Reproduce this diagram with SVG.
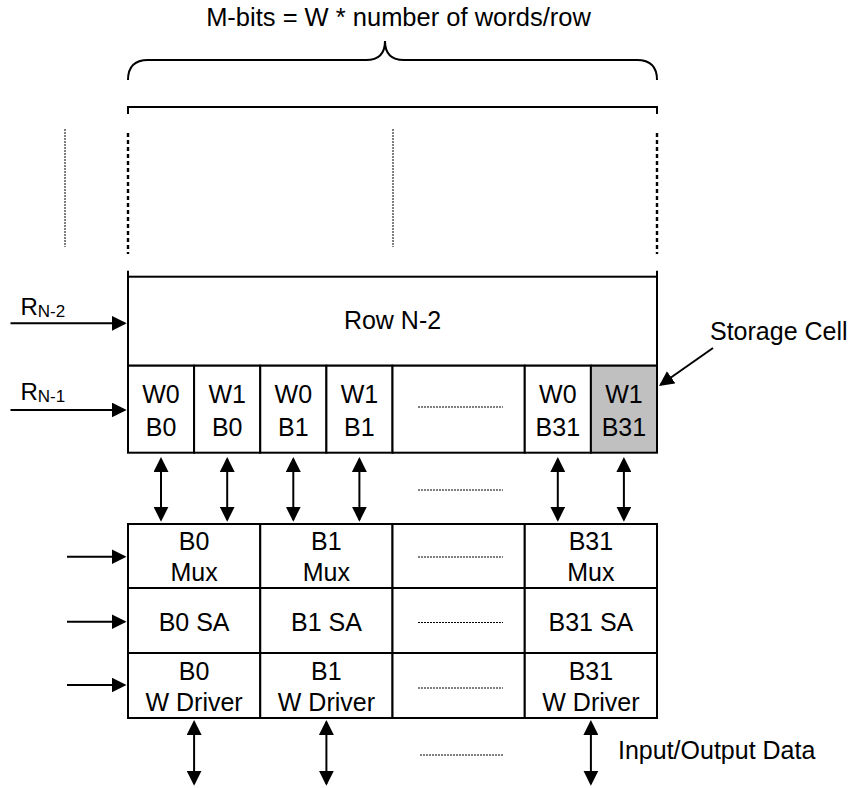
<svg xmlns="http://www.w3.org/2000/svg" width="852" height="788" viewBox="0 0 852 788">
<defs>
<marker id="ah" markerUnits="userSpaceOnUse" markerWidth="16" markerHeight="15" refX="13" refY="7.5" orient="auto-start-reverse">
<path d="M0,0 L15,7.5 L0,15 z" fill="#000"/>
</marker>
<style>
.t{font-family:"Liberation Sans",Arial,sans-serif;font-size:25px;fill:#000;text-anchor:middle}
.s{stroke:#000;stroke-width:2;fill:none}
.box{stroke:#000;stroke-width:2;fill:#fff}
.dot{stroke:#000;stroke-width:1;stroke-dasharray:2 1;fill:none}
.dash{stroke:#000;stroke-width:2.4;stroke-dasharray:4 3;fill:none}
.ar{stroke:#000;stroke-width:2;fill:none;marker-end:url(#ah)}
.dar{stroke:#000;stroke-width:2;fill:none;marker-start:url(#ah);marker-end:url(#ah)}
</style>
</defs>
<rect width="852" height="788" fill="#fff"/>

<g id="title">
<text class="t" x="398.5" y="26" style="font-size:25.5px">M-bits = W * number of words/row</text>
<path class="s" d="M128,80 Q128,60 148,60 L366,60 Q385,60 385,41 Q385,60 404,60 L637,60 Q657,60 657,80"/>
<path class="s" d="M128,114 L128,107 L657,107 L657,114"/>
</g>

<g id="guides">
<line class="dot" x1="65" y1="129" x2="65" y2="247"/>
<line class="dot" x1="393" y1="129" x2="393" y2="247"/>
<line class="dash" x1="128" y1="133" x2="128" y2="254"/>
<line class="dash" x1="657" y1="133" x2="657" y2="254"/>
</g>

<g id="row-n2">
<rect class="box" x="128" y="276.7" width="529" height="89"/>
<line class="s" x1="128" y1="270.7" x2="128" y2="277"/>
<line class="s" x1="657" y1="270.7" x2="657" y2="277"/>
<text class="t" x="392.5" y="329">Row N-2</text>
</g>

<g id="row-n1">
<rect class="box" x="128" y="365.7" width="66.1" height="87"/>
<rect class="box" x="194.1" y="365.7" width="66.15" height="87"/>
<rect class="box" x="260.25" y="365.7" width="66.15" height="87"/>
<rect class="box" x="326.4" y="365.7" width="66.1" height="87"/>
<rect class="box" x="392.5" y="365.7" width="132.25" height="87"/>
<rect class="box" x="524.75" y="365.7" width="66.15" height="87"/>
<rect class="box" x="590.9" y="365.7" width="66.1" height="87" style="fill:#c0c0c0"/>
<text class="t" x="161" y="403">W0</text><text class="t" x="161" y="436">B0</text>
<text class="t" x="227.2" y="403">W1</text><text class="t" x="227.2" y="436">B0</text>
<text class="t" x="293.3" y="403">W0</text><text class="t" x="293.3" y="436">B1</text>
<text class="t" x="359.4" y="403">W1</text><text class="t" x="359.4" y="436">B1</text>
<line class="dot" x1="418" y1="407" x2="503" y2="407"/>
<text class="t" x="557.8" y="403">W0</text><text class="t" x="557.8" y="436">B31</text>
<text class="t" x="623.9" y="403">W1</text><text class="t" x="623.9" y="436">B31</text>
</g>

<g id="labels">
<text class="t" x="20.5" y="315" style="text-anchor:start;font-size:24px">R<tspan dy="2" style="font-size:17px">N-2</tspan></text>
<text class="t" x="20.5" y="400" style="text-anchor:start;font-size:24px">R<tspan dy="2" style="font-size:17px">N-1</tspan></text>
<text class="t" x="710" y="340" style="text-anchor:start">Storage Cell</text>
<text class="t" x="618" y="759" style="text-anchor:start">Input/Output Data</text>
</g>

<g id="periphery">
<rect class="box" x="128" y="524" width="132.25" height="64"/>
<rect class="box" x="260.25" y="524" width="132.25" height="64"/>
<rect class="box" x="392.5" y="524" width="132.25" height="64"/>
<rect class="box" x="524.75" y="524" width="132.25" height="64"/>
<rect class="box" x="128" y="588" width="132.25" height="65"/>
<rect class="box" x="260.25" y="588" width="132.25" height="65"/>
<rect class="box" x="392.5" y="588" width="132.25" height="65"/>
<rect class="box" x="524.75" y="588" width="132.25" height="65"/>
<rect class="box" x="128" y="653" width="132.25" height="65"/>
<rect class="box" x="260.25" y="653" width="132.25" height="65"/>
<rect class="box" x="392.5" y="653" width="132.25" height="65"/>
<rect class="box" x="524.75" y="653" width="132.25" height="65"/>
<text class="t" x="194.1" y="550">B0</text><text class="t" x="194.1" y="581">Mux</text>
<text class="t" x="326.4" y="550">B1</text><text class="t" x="326.4" y="581">Mux</text>
<text class="t" x="590.9" y="550">B31</text><text class="t" x="590.9" y="581">Mux</text>
<text class="t" x="194.1" y="631">B0 SA</text>
<text class="t" x="326.4" y="631">B1 SA</text>
<text class="t" x="590.9" y="631">B31 SA</text>
<text class="t" x="194.1" y="680">B0</text><text class="t" x="194.1" y="711">W Driver</text>
<text class="t" x="326.4" y="680">B1</text><text class="t" x="326.4" y="711">W Driver</text>
<text class="t" x="590.9" y="680">B31</text><text class="t" x="590.9" y="711">W Driver</text>
<line class="dot" x1="418" y1="557" x2="503" y2="557"/>
<line class="dot" x1="418" y1="622.5" x2="503" y2="622.5"/>
<line class="dot" x1="418" y1="688" x2="503" y2="688"/>
</g>

<g id="connectors">
<line class="ar" x1="10.5" y1="323.3" x2="124.7" y2="323.3"/>
<line class="ar" x1="10.5" y1="410" x2="124.7" y2="410"/>
<line class="ar" x1="713" y1="348" x2="660.6" y2="384.8"/>
<line class="dar" x1="161" y1="459" x2="161" y2="519.7"/>
<line class="dar" x1="227.2" y1="459" x2="227.2" y2="519.7"/>
<line class="dar" x1="293.3" y1="459" x2="293.3" y2="519.7"/>
<line class="dar" x1="359.4" y1="459" x2="359.4" y2="519.7"/>
<line class="dar" x1="557.8" y1="459" x2="557.8" y2="519.7"/>
<line class="dar" x1="623.9" y1="459" x2="623.9" y2="519.7"/>
<line class="dot" x1="418" y1="490" x2="503" y2="490"/>
<line class="ar" x1="67" y1="556.7" x2="124.5" y2="556.7"/>
<line class="ar" x1="67" y1="621.7" x2="124.5" y2="621.7"/>
<line class="ar" x1="67" y1="685" x2="124.5" y2="685"/>
<line class="dar" x1="194.1" y1="722" x2="194.1" y2="783.7"/>
<line class="dar" x1="326.4" y1="722" x2="326.4" y2="783.7"/>
<line class="dar" x1="590.9" y1="722" x2="590.9" y2="783.7"/>
<line class="dot" x1="420" y1="755" x2="504" y2="755"/>
</g>
</svg>
